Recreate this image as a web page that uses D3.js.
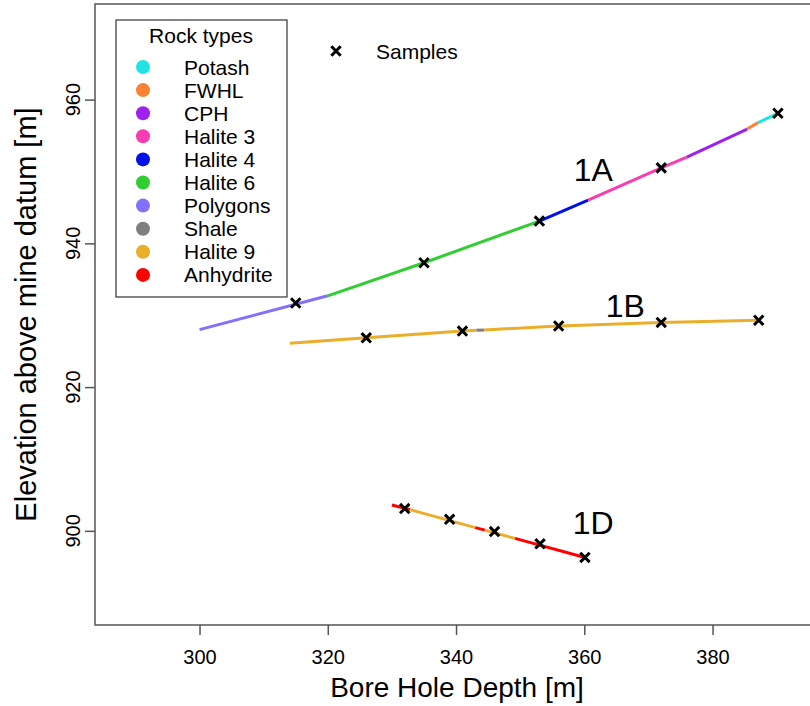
<!DOCTYPE html>
<html>
  <head>
    <style>
      body { margin: 0; background: #fff; }
      svg text { font-family: "Liberation Sans", Arial, sans-serif; fill: #000; }
      .frame { fill: none; stroke: #555; stroke-width: 1.5; }
      .tick line { stroke: #555; stroke-width: 1.5; }
    </style>
  </head>
  <body>
    <svg width="810" height="706"></svg>
    <script src="https://d3js.org/d3.v7.min.js"></script>
    <script>
      // rock types (legend order) and their colours
      var rockTypes = ["Potash", "FWHL", "CPH", "Halite 3", "Halite 4", "Halite 6", "Polygons", "Shale", "Halite 9", "Anhydrite"];
      var rockColors = ["#22e3e3", "#fb8232", "#a020f0", "#f83cb2", "#0010e8", "#32cd32", "#8470ff", "#7f7f7f", "#ebae2a", "#ff0000"];

      // borehole 1A: vertices along the hole, rock type for each piece between vertices
      var depth1A = [300, 320, 335, 353, 360.6, 372, 376, 385.4, 387.1, 390.2];
      var elev1A = [928.0, 932.7, 937.3, 943.1, 946.0, 950.5, 952.0, 955.9, 956.8, 958.1];
      var rock1A = ["Polygons", "Halite 6", "Halite 6", "Halite 4", "Halite 3", "Halite 3", "CPH", "FWHL", "Potash"];

      // borehole 1B
      var depth1B = [314.1, 326, 341, 343.2, 344.4, 356, 372, 387.2];
      var elev1B = [926.1, 926.85, 927.8, 927.9, 927.95, 928.5, 929.0, 929.3];
      var rock1B = ["Halite 9", "Halite 9", "Halite 9", "Shale", "Halite 9", "Halite 9", "Halite 9"];

      // borehole 1D
      var depth1D = [330, 332.8, 343, 344.5, 349.2, 360.1];
      var elev1D = [903.6, 902.95, 900.45, 900.1, 898.95, 896.3];
      var rock1D = ["Anhydrite", "Halite 9", "Anhydrite", "Halite 9", "Anhydrite"];

      // sample locations
      var sampleDepth1A = [315, 335, 353, 372, 390.2];
      var sampleElev1A = [931.7, 937.3, 943.1, 950.5, 958.1];
      var sampleDepth1B = [326, 341, 356, 372, 387.2];
      var sampleElev1B = [926.85, 927.8, 928.5, 929.0, 929.3];
      var sampleDepth1D = [332, 339, 346, 353.1, 360.1];
      var sampleElev1D = [903.1, 901.6, 899.9, 898.2, 896.3];

      // hole labels
      var labelNames = ["1A", "1B", "1D"];
      var labelDepth = [361.4, 366.4, 361.4];
      var labelElev = [950.3, 931.3, 901.2];

      var xTicks = [300, 320, 340, 360, 380];
      var yTicks = [900, 920, 940, 960];

      var svg = d3.select("svg");
      var plotL = 95, plotR = 819, plotT = 4, plotB = 625;

      var x = d3.scaleLinear().domain([283.7, 396.6]).range([plotL, plotR]);
      var y = d3.scaleLinear().domain([886.9, 973.3]).range([plotB, plotT]);
      var color = d3.scaleOrdinal().domain(rockTypes).range(rockColors);

      // axes
      svg.append("g")
          .attr("class", "tick")
          .attr("transform", "translate(0," + plotB + ")")
          .call(d3.axisBottom(x).tickValues(xTicks).tickSize(10).tickPadding(15))
          .call(function(g) { g.select(".domain").remove(); })
          .selectAll("text")
            .style("font-size", "20px")
            .style("font-family", "Liberation Sans, Arial, sans-serif");

      var yAxis = svg.append("g")
          .attr("class", "tick")
          .attr("transform", "translate(" + plotL + ",0)")
          .call(d3.axisLeft(y).tickValues(yTicks).tickSize(10).tickFormat(""));
      yAxis.select(".domain").remove();

      svg.selectAll(".ylab")
        .data(yTicks)
        .enter().append("text")
          .attr("class", "ylab")
          .attr("transform", function(d) { return "translate(80," + y(d) + ") rotate(-90)"; })
          .attr("text-anchor", "middle")
          .style("font-size", "20px")
          .text(function(d) { return d; });

      svg.append("rect")
          .attr("class", "frame")
          .attr("x", plotL)
          .attr("y", plotT)
          .attr("width", plotR - plotL)
          .attr("height", plotB - plotT);

      svg.append("text")
          .attr("x", (plotL + plotR) / 2)
          .attr("y", 697)
          .attr("text-anchor", "middle")
          .style("font-size", "28px")
          .text("Bore Hole Depth [m]");

      svg.append("text")
          .attr("transform", "translate(36," + ((plotT + plotB) / 2) + ") rotate(-90)")
          .attr("text-anchor", "middle")
          .style("font-size", "29px")
          .text("Elevation above mine datum [m]");

      // borehole lines, one piece per rock interval
      function drawHole(depths, elevs, rocks) {
        var pieces = rocks.map(function(r, i) {
          return { rock: r, x0: depths[i], y0: elevs[i], x1: depths[i + 1], y1: elevs[i + 1] };
        });
        svg.append("g")
          .selectAll("line")
          .data(pieces)
          .enter().append("line")
            .attr("x1", function(d) { return x(d.x0); })
            .attr("y1", function(d) { return y(d.y0); })
            .attr("x2", function(d) { return x(d.x1); })
            .attr("y2", function(d) { return y(d.y1); })
            .attr("stroke", function(d) { return color(d.rock); })
            .attr("stroke-width", 3);
      }

      function cross(g, cx, cy) {
        var s = 4.7;
        g.append("path")
          .attr("d", "M" + (cx - s) + "," + (cy - s) + "L" + (cx + s) + "," + (cy + s) +
                     "M" + (cx - s) + "," + (cy + s) + "L" + (cx + s) + "," + (cy - s))
          .attr("stroke", "#000")
          .attr("stroke-width", 3);
      }

      function drawSamples(depths, elevs) {
        var g = svg.append("g");
        depths.forEach(function(d, i) { cross(g, x(d), y(elevs[i])); });
      }

      drawHole(depth1A, elev1A, rock1A);
      drawHole(depth1B, elev1B, rock1B);
      drawHole(depth1D, elev1D, rock1D);
      drawSamples(sampleDepth1A, sampleElev1A);
      drawSamples(sampleDepth1B, sampleElev1B);
      drawSamples(sampleDepth1D, sampleElev1D);

      svg.selectAll(".holelab")
        .data(labelNames)
        .enter().append("text")
          .attr("class", "holelab")
          .attr("x", function(d, i) { return x(labelDepth[i]); })
          .attr("y", function(d, i) { return y(labelElev[i]); })
          .attr("dy", "0.36em")
          .attr("text-anchor", "middle")
          .style("font-size", "32px")
          .text(function(d) { return d; });

      // legend
      var legend = svg.append("g");
      legend.append("rect")
          .attr("x", 116).attr("y", 20)
          .attr("width", 171).attr("height", 277)
          .attr("fill", "#fff")
          .attr("stroke", "#333")
          .attr("stroke-width", 1.2);
      legend.append("text")
          .attr("x", 201).attr("y", 43)
          .attr("text-anchor", "middle")
          .style("font-size", "21px")
          .text("Rock types");
      var items = legend.selectAll(".item")
        .data(rockTypes)
        .enter().append("g")
          .attr("transform", function(d, i) { return "translate(0," + (67 + i * 23.1) + ")"; });
      items.append("circle")
          .attr("cx", 143)
          .attr("r", 7)
          .attr("fill", function(d) { return color(d); });
      items.append("text")
          .attr("x", 184)
          .attr("dy", "0.36em")
          .style("font-size", "21px")
          .text(function(d) { return d; });

      cross(legend, 336, 51);
      legend.append("text")
          .attr("x", 376).attr("y", 51)
          .attr("dy", "0.36em")
          .style("font-size", "21px")
          .text("Samples");
    </script>
  </body>
</html>
